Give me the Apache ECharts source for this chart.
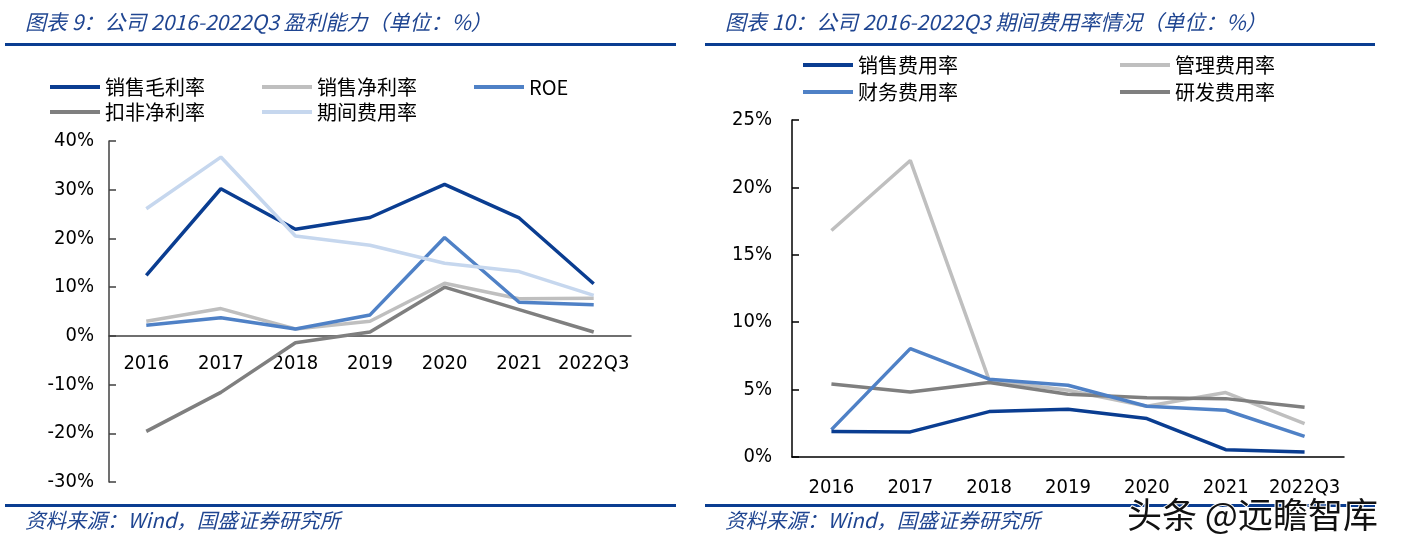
<!DOCTYPE html>
<html><head><meta charset="utf-8">
<script src="https://cdn.jsdelivr.net/npm/echarts@6/dist/echarts.min.js"></script>
<style>html,body{margin:0;padding:0;background:#fff}#c{width:1402px;height:548px}</style>
</head><body><div id="c"></div>
<script>
// ---- data ----
var categories = ['2016','2017','2018','2019','2020','2021','2022Q3'];
// left chart: profitability (%)
var grossMargin   = [12.4, 30.2, 21.9, 24.3, 31.1, 24.2, 10.7];
var netMargin     = [3.0, 5.6, 1.4, 3.0, 10.8, 7.6, 7.7];
var roe           = [2.2, 3.7, 1.4, 4.3, 20.2, 6.9, 6.4];
var deductedNet   = [-19.6, -11.6, -1.4, 0.8, 10.0, 5.4, 0.8];
var periodExpense = [26.1, 36.7, 20.5, 18.6, 14.9, 13.2, 8.3];
// right chart: expense ratios (%)
var salesExp  = [1.9, 1.86, 3.37, 3.54, 2.85, 0.54, 0.37];
var adminExp  = [16.8, 22.0, 5.7, 4.95, 3.76, 4.78, 2.48];
var finExp    = [2.03, 8.04, 5.77, 5.32, 3.76, 3.47, 1.53];
var rdExp     = [5.42, 4.83, 5.52, 4.65, 4.4, 4.33, 3.69];
var leftTicks  = {min: -30, max: 40, interval: 10};
var rightTicks = {min: 0, max: 25, interval: 5};

var C_DARK = '#0a3d91', C_LGREY = '#bfbfbf', C_MID = '#4f81c6', C_DGREY = '#7f7f7f', C_LBLUE = '#c6d7ee';
var numFont = 'Tahoma, "DejaVu Sans Condensed", sans-serif';
var cjk = '"Noto Sans CJK SC", sans-serif';

function line(name, data, color, xi) {
  return {name: name, type: 'line', xAxisIndex: xi, yAxisIndex: xi, data: data,
    showSymbol: false, symbol: 'none', lineStyle: {color: color, width: 3.5}, itemStyle: {color: color},
    z: 2, animation: false};
}
function xAxis(gi, margin, axisColor, offset) {
  return {type: 'category', gridIndex: gi, data: categories, boundaryGap: true, position: 'bottom', offset: offset,
    axisLine: {onZero: false, lineStyle: {color: axisColor, width: 1.5}},
    axisTick: {inside: true, length: 7, alignWithLabel: false, lineStyle: {color: axisColor, width: 1.5}},
    axisLabel: {color: '#000', fontSize: 20, fontFamily: numFont, margin: margin, interval: 0},
    splitLine: {show: false}};
}
function yAxis(gi, t, margin, axisColor) {
  return {type: 'value', gridIndex: gi, min: t.min, max: t.max, interval: t.interval,
    axisLine: {show: true, onZero: false, lineStyle: {color: axisColor, width: 1.5}},
    axisTick: {show: true, inside: true, length: 7, lineStyle: {color: axisColor, width: 1.5}},
    axisLabel: {color: '#000', fontSize: 20, fontFamily: numFont, margin: margin, formatter: '{value}%'},
    splitLine: {show: false}};
}
function legend(data, left, top, gap) {
  return {data: data, left: left, top: top, orient: 'horizontal', icon: 'rect', itemWidth: 50, itemHeight: 4,
    itemGap: gap, textStyle: {fontSize: 20, fontFamily: cjk, color: '#000'}, selectedMode: false};
}
var titleStyle = {fontSize: 21, fontStyle: 'italic', fontFamily: cjk, color: '#1f4591', fontWeight: 'normal'};
var footStyle = {fontSize: 20.5, fontStyle: 'italic', fontFamily: cjk, color: '#1f4591', fontWeight: 'normal'};

var chart = echarts.init(document.getElementById('c'), null, {renderer: 'canvas'});
chart.setOption({
  animation: false,
  backgroundColor: '#fff',
  title: [
    {text: '图表 9：公司 2016-2022Q3 盈利能力（单位：%）', left: 20, top: 7, textStyle: titleStyle},
    {text: '图表 10：公司 2016-2022Q3 期间费用率情况（单位：%）', left: 720, top: 7, textStyle: titleStyle},
    {text: '资料来源：Wind，国盛证券研究所', left: 20, top: 505, textStyle: footStyle},
    {text: '资料来源：Wind，国盛证券研究所', left: 720, top: 505, textStyle: footStyle}
  ],
  legend: [
    legend(['销售毛利率', '销售净利率', 'ROE'], 45, 72, 57),
    legend(['扣非净利率', '期间费用率'], 45, 97, 57),
    legend(['销售费用率', '管理费用率'], 798, 50, 162),
    legend(['财务费用率', '研发费用率'], 798, 77, 162)
  ],
  grid: [
    {left: 109, top: 141, width: 522, height: 341},
    {left: 792, top: 120, width: 552, height: 337}
  ],
  xAxis: [xAxis(0, 18, '#404040', -146), xAxis(1, 21, '#000', 0)],
  yAxis: [yAxis(0, leftTicks, 15, '#404040'), yAxis(1, rightTicks, 20, '#000')],
  series: [
    line('销售毛利率', grossMargin, C_DARK, 0),
    line('销售净利率', netMargin, C_LGREY, 0),
    line('ROE', roe, C_MID, 0),
    line('扣非净利率', deductedNet, C_DGREY, 0),
    line('期间费用率', periodExpense, C_LBLUE, 0),
    line('管理费用率', adminExp, C_LGREY, 1),
    line('研发费用率', rdExp, C_DGREY, 1),
    line('财务费用率', finExp, C_MID, 1),
    line('销售费用率', salesExp, C_DARK, 1)
  ],
  graphic: [
    {type: 'rect', shape: {x: 5, y: 43, width: 671, height: 3}, style: {fill: '#0a3d91'}},
    {type: 'rect', shape: {x: 705, y: 43, width: 670, height: 3}, style: {fill: '#0a3d91'}},
    {type: 'rect', shape: {x: 5, y: 504, width: 671, height: 3}, style: {fill: '#0a3d91'}},
    {type: 'rect', shape: {x: 705, y: 504, width: 670, height: 3}, style: {fill: '#0a3d91'}},
    {type: 'text', left: 1126, top: 496, z: 100, style: {text: '头条 @远瞻智库', font: '35px "Noto Sans CJK SC"', fill: '#111',
      stroke: '#fff', lineWidth: 2, textShadowColor: 'rgba(255,255,255,0.9)', textShadowOffsetX: 2, textShadowOffsetY: 2}}
  ]
});
</script></body></html>
